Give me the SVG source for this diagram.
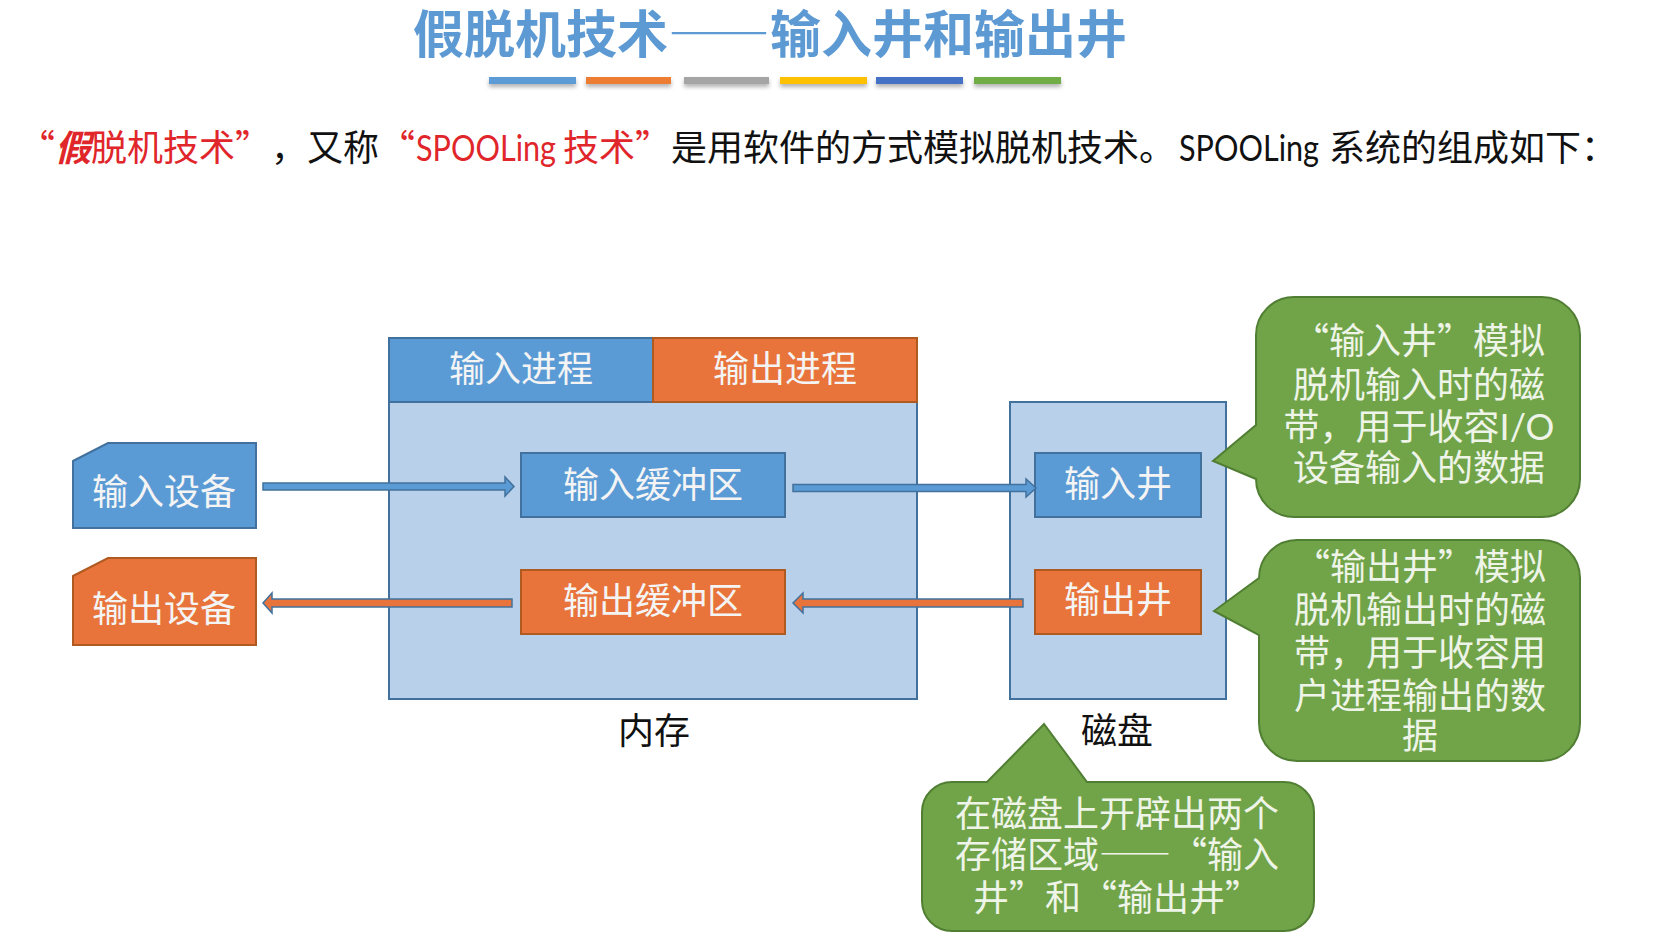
<svg xmlns="http://www.w3.org/2000/svg" width="1655" height="942" viewBox="0 0 1655 942">
  <defs>
    <style>
      text { font-family: "Noto Sans CJK SC", "Noto Sans", sans-serif; }
      .q { font-feature-settings: "fwid"; }
      .lat { font-family: Lato, "Noto Sans", sans-serif; }
      .title { font-size: 51px; fill: #5D9AD3; font-weight: bold; }
      .sub { font-size: 36px; fill: #111111; }
      .red { fill: #E0262B; }
      .lbl { font-size: 36px; fill: #F4F4F4; text-anchor: middle; }
      .cap { font-size: 36px; fill: #111111; text-anchor: middle; }
      .note { font-size: 36px; fill: #EEF4E8; text-anchor: middle; }
      .blue { fill: #5B9BD5; stroke: #41719C; stroke-width: 2; }
      .orange { fill: #E8743B; stroke: #AE5A21; stroke-width: 2; }
      .mem { fill: #B9D0EA; stroke: #41719C; stroke-width: 2; }
      .green { fill: #71A449; stroke: #507E32; stroke-width: 2; }
      .arrB { fill: #5B9BD5; stroke: #41719C; stroke-width: 1.5; }
      .arrO { fill: #E8743B; stroke: #41719C; stroke-width: 1.5; }
    </style>
    <filter id="sh" x="-10%" y="-50%" width="120%" height="250%">
      <feDropShadow dx="0" dy="3" stdDeviation="2" flood-color="#000" flood-opacity="0.3"/>
    </filter>
  </defs>
  <rect width="1655" height="942" fill="#FFFFFF"/>

  <g id="title">
    <text class="title q" x="770" y="53" text-anchor="middle">假脱机技术——输入井和输出井</text>
  </g>
  <g id="color-bars" filter="url(#sh)">
    <rect x="489" y="77" width="87" height="7" fill="#5B9BD5"/>
    <rect x="586" y="77" width="85" height="7" fill="#ED7D31"/>
    <rect x="684" y="77" width="85" height="7" fill="#A5A5A5"/>
    <rect x="780" y="77" width="87" height="7" fill="#FFC000"/>
    <rect x="876" y="77" width="87" height="7" fill="#4472C4"/>
    <rect x="974" y="77" width="87" height="7" fill="#70AD47"/>
  </g>

  <g id="subtitle">
    <text class="sub" y="161">
      <tspan x="19" class="red q">“<tspan font-style="italic" font-weight="bold">假</tspan>脱机技术”</tspan>
      <tspan x="271" class="q">，又称</tspan>
      <tspan x="379" class="red q">“</tspan>
      <tspan x="416" class="red lat" textLength="140" lengthAdjust="spacingAndGlyphs">SPOOLing</tspan>
      <tspan x="563" class="red q">技术”</tspan>
      <tspan x="671" class="q">是用软件的方式模拟脱机技术。</tspan>
      <tspan x="1179" class="lat" textLength="140" lengthAdjust="spacingAndGlyphs">SPOOLing</tspan>
      <tspan x="1329">系统的组成如下：</tspan>
    </text>
  </g>

  <g id="memory">
    <rect class="mem" x="389" y="338" width="528" height="361"/>
    <text class="cap" x="654" y="744">内存</text>
  </g>
  <g id="input-process">
    <rect class="blue" x="389" y="338" width="264" height="64"/>
    <text class="lbl" x="521" y="382">输入进程</text>
  </g>
  <g id="output-process">
    <rect class="orange" x="653" y="338" width="264" height="64"/>
    <text class="lbl" x="785" y="382">输出进程</text>
  </g>
  <g id="input-buffer">
    <rect class="blue" x="521" y="453" width="264" height="64"/>
    <text class="lbl" x="653" y="498">输入缓冲区</text>
  </g>
  <g id="output-buffer">
    <rect class="orange" x="521" y="570" width="264" height="64"/>
    <text class="lbl" x="653" y="614">输出缓冲区</text>
  </g>
  <g id="input-device">
    <path class="blue" d="M73 461 L108 443 H256 V528 H73 Z"/>
    <text class="lbl" x="164" y="505">输入设备</text>
  </g>
  <g id="output-device">
    <path class="orange" d="M73 576 L108 558 H256 V645 H73 Z"/>
    <text class="lbl" x="164" y="622">输出设备</text>
  </g>
  <g id="disk">
    <rect class="mem" x="1010" y="402" width="216" height="297"/>
    <text class="cap" x="1117" y="744">磁盘</text>
  </g>
  <g id="input-well">
    <rect class="blue" x="1035" y="453" width="166" height="64"/>
    <text class="lbl" x="1118" y="497">输入井</text>
  </g>
  <g id="output-well">
    <rect class="orange" x="1035" y="570" width="166" height="64"/>
    <text class="lbl" x="1118" y="613">输出井</text>
  </g>

  <g id="connectors">
    <polygon class="arrB" points="263,483 505,483 505,477 514,486.5 505,496 505,490 263,490"/>
    <polygon class="arrB" points="793,484.5 1026,484.5 1026,479 1036,488 1026,497 1026,491.5 793,491.5"/>
    <polygon class="arrO" points="1023,599 803,599 803,593 793,603 803,613 803,607 1023,607"/>
    <polygon class="arrO" points="512,599 272,599 272,593 263,603 272,613 272,607 512,607"/>
  </g>

  <g id="note-input-well">
    <path class="green" d="M1294 297 H1542 A38 38 0 0 1 1580 335 V479 A38 38 0 0 1 1542 517 H1294 A38 38 0 0 1 1256 479 L1213 461 L1256 425 V335 A38 38 0 0 1 1294 297 Z"/>
    <text class="note q" x="1419" y="354">“输入井”模拟</text>
    <text class="note q" x="1419" y="398">脱机输入时的磁</text>
    <text class="note" x="1419" y="440"><tspan class="q">带，用于收容</tspan><tspan class="lat">I/O</tspan></text>
    <text class="note q" x="1419" y="481">设备输入的数据</text>
  </g>
  <g id="note-output-well">
    <path class="green" d="M1297 540 H1542 A38 38 0 0 1 1580 578 V723 A38 38 0 0 1 1542 761 H1297 A38 38 0 0 1 1259 723 V635 L1214 611 L1259 578 A38 38 0 0 1 1297 540 Z"/>
    <text class="note q" x="1420" y="580">“输出井”模拟</text>
    <text class="note q" x="1420" y="623">脱机输出时的磁</text>
    <text class="note q" x="1420" y="666">带，用于收容用</text>
    <text class="note q" x="1420" y="709">户进程输出的数</text>
    <text class="note q" x="1420" y="749">据</text>
  </g>
  <g id="note-disk">
    <path class="green" d="M952 782 H987 L1044 724 L1087 782 H1284 A30 30 0 0 1 1314 812 V901 A30 30 0 0 1 1284 931 H952 A30 30 0 0 1 922 901 V812 A30 30 0 0 1 952 782 Z"/>
    <text class="note q" x="1117" y="827">在磁盘上开辟出两个</text>
    <text class="note q" x="1117" y="868">存储区域——“输入</text>
    <text class="note q" x="1117" y="911">井”和“输出井”</text>
  </g>
</svg>
